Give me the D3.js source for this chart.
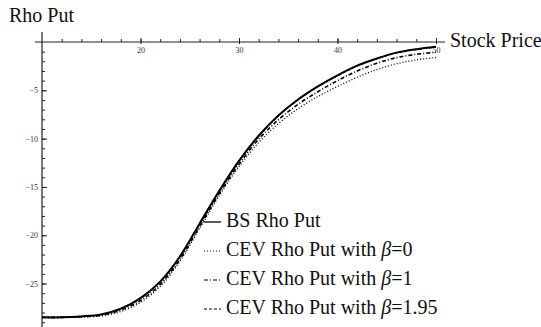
<!DOCTYPE html>
<html>
<head>
<meta charset="utf-8">
<script src="https://cdn.jsdelivr.net/npm/d3@7"></script>
<style>
  body { margin: 0; background: #fff; }
  svg { display: block; }
  .tick text { font-size: 8px; fill: #334; }
  .lbl { font-size: 20px; fill: #111; }
</style>
</head>
<body>
<svg width="541" height="327"></svg>
<script>
// stock price grid
var prices = [10, 12, 14, 16, 18, 20, 22, 24, 26, 28, 30, 32, 34, 36, 38, 40, 42, 44, 46, 48, 50];

// rho put values
var bsRho     = [-28.5, -28.5, -28.4, -28.2, -27.6, -26.5, -24.8, -22.2, -18.8, -15.4, -12.3, -9.7, -7.6, -5.95, -4.6, -3.45, -2.45, -1.7, -1.1, -0.75, -0.5];
var cevBeta0  = [-28.5, -28.5, -28.45, -28.35, -27.9, -26.95, -25.3, -22.7, -19.3, -15.9, -12.9, -10.4, -8.45, -6.9, -5.65, -4.6, -3.65, -2.85, -2.25, -1.85, -1.6];
var cevBeta1  = [-28.5, -28.5, -28.43, -28.28, -27.75, -26.75, -25.1, -22.5, -19.1, -15.7, -12.65, -10.05, -8.05, -6.45, -5.15, -4.0, -3.0, -2.2, -1.62, -1.27, -1.05];
var cevBeta195 = [-28.5, -28.5, -28.4, -28.2, -27.62, -26.52, -24.83, -22.23, -18.83, -15.43, -12.33, -9.73, -7.63, -5.98, -4.63, -3.48, -2.48, -1.72, -1.12, -0.77, -0.52];

var xMajor = [20, 30, 40, 50];
var yMajor = [-5, -10, -15, -20, -25];
var legendNames = ["BS Rho Put", "CEV Rho Put with β=0", "CEV Rho Put with β=1", "CEV Rho Put with β=1.95"];

var serif = "'Liberation Serif', 'Times New Roman', Times, Tinos, 'Noto Serif', 'DejaVu Serif', serif";

var svg = d3.select("svg");

var x = d3.scaleLinear().domain([10, 50]).range([42, 436]);
var y = d3.scaleLinear().domain([0, -29.6]).range([42, 328]);

// x axis line (runs a bit past both ends)
svg.append("line")
  .attr("x1", 35).attr("x2", 445)
  .attr("y1", y(0)).attr("y2", y(0))
  .attr("stroke", "#222").attr("stroke-width", 1.2);

// minor x ticks
svg.append("g")
  .attr("transform", "translate(0," + y(0) + ")")
  .call(d3.axisTop(x).tickValues(d3.range(12, 51, 2)).tickSize(3).tickFormat(""))
  .call(function(g) { g.select(".domain").remove(); g.selectAll("line").attr("stroke", "#222"); });

// major x ticks + labels
svg.append("g")
  .attr("transform", "translate(0," + y(0) + ")")
  .call(d3.axisBottom(x).tickValues(xMajor).tickSize(2).tickPadding(3))
  .call(function(g) { g.select(".domain").remove(); g.selectAll("line").attr("stroke", "#222"); });
svg.append("g")
  .attr("transform", "translate(0," + y(0) + ")")
  .call(d3.axisTop(x).tickValues(xMajor).tickSize(4).tickFormat(""))
  .call(function(g) { g.select(".domain").remove(); g.selectAll("line").attr("stroke", "#222"); });

// y axis line
svg.append("line")
  .attr("x1", x(10)).attr("x2", x(10))
  .attr("y1", 32).attr("y2", 327)
  .attr("stroke", "#222").attr("stroke-width", 1.2);

svg.append("g")
  .attr("transform", "translate(" + x(10) + ",0)")
  .call(d3.axisRight(y).tickValues(d3.range(-1, -30, -1)).tickSize(3).tickFormat(""))
  .call(function(g) { g.select(".domain").remove(); g.selectAll("line").attr("stroke", "#222"); });

svg.append("g")
  .attr("transform", "translate(" + x(10) + ",0)")
  .call(d3.axisLeft(y).tickValues(yMajor).tickSize(-5).tickPadding(4)
        .tickFormat(function(d) { return "\u2212" + Math.abs(d); }))
  .call(function(g) { g.select(".domain").remove(); g.selectAll("line").attr("stroke", "#222"); });

svg.selectAll("g").attr("font-family", null);
svg.selectAll(".tick text").style("font-family", serif);

// curves
var series = [
  { vals: cevBeta0,   dash: "1,2",     w: 1.3 },
  { vals: cevBeta1,   dash: "4,2,1,2", w: 1.6 },
  { vals: bsRho,      dash: null,      w: 2 },
  { vals: cevBeta195, dash: "3,2",     w: 1.4 }
];

var line = d3.line()
  .x(function(d, i) { return x(prices[i]); })
  .y(function(d) { return y(d); })
  .curve(d3.curveCatmullRom);

series.forEach(function(s) {
  svg.append("path")
    .datum(s.vals)
    .attr("d", line)
    .attr("fill", "none")
    .attr("stroke", "#000")
    .attr("stroke-width", s.w)
    .attr("stroke-dasharray", s.dash);
});

// titles
svg.append("text").attr("class", "lbl").attr("x", 9).attr("y", 22)
  .style("font-family", serif).text("Rho Put");
svg.append("text").attr("class", "lbl").attr("x", 450).attr("y", 47)
  .style("font-family", serif).text("Stock Price");

// legend
var legendDash = [null, "1,2", "4,2,1,2", "3,2"];
var legendY = [220, 249, 278, 307];
legendNames.forEach(function(name, i) {
  svg.append("line")
    .attr("x1", 204).attr("x2", 221)
    .attr("y1", legendY[i] + 2).attr("y2", legendY[i] + 2)
    .attr("stroke", "#000")
    .attr("stroke-width", i === 0 ? 1.3 : 1)
    .attr("stroke-dasharray", legendDash[i]);
  var t = svg.append("text").attr("class", "lbl")
    .style("font-family", serif)
    .attr("x", 226).attr("y", legendY[i] + 7);
  if (name.indexOf("β") >= 0) {
    var parts = name.split("β");
    t.append("tspan").text(parts[0]);
    t.append("tspan").attr("font-style", "italic").text("β");
    t.append("tspan").text(parts[1]);
  } else {
    t.text(name);
  }
});
</script>
</body>
</html>
